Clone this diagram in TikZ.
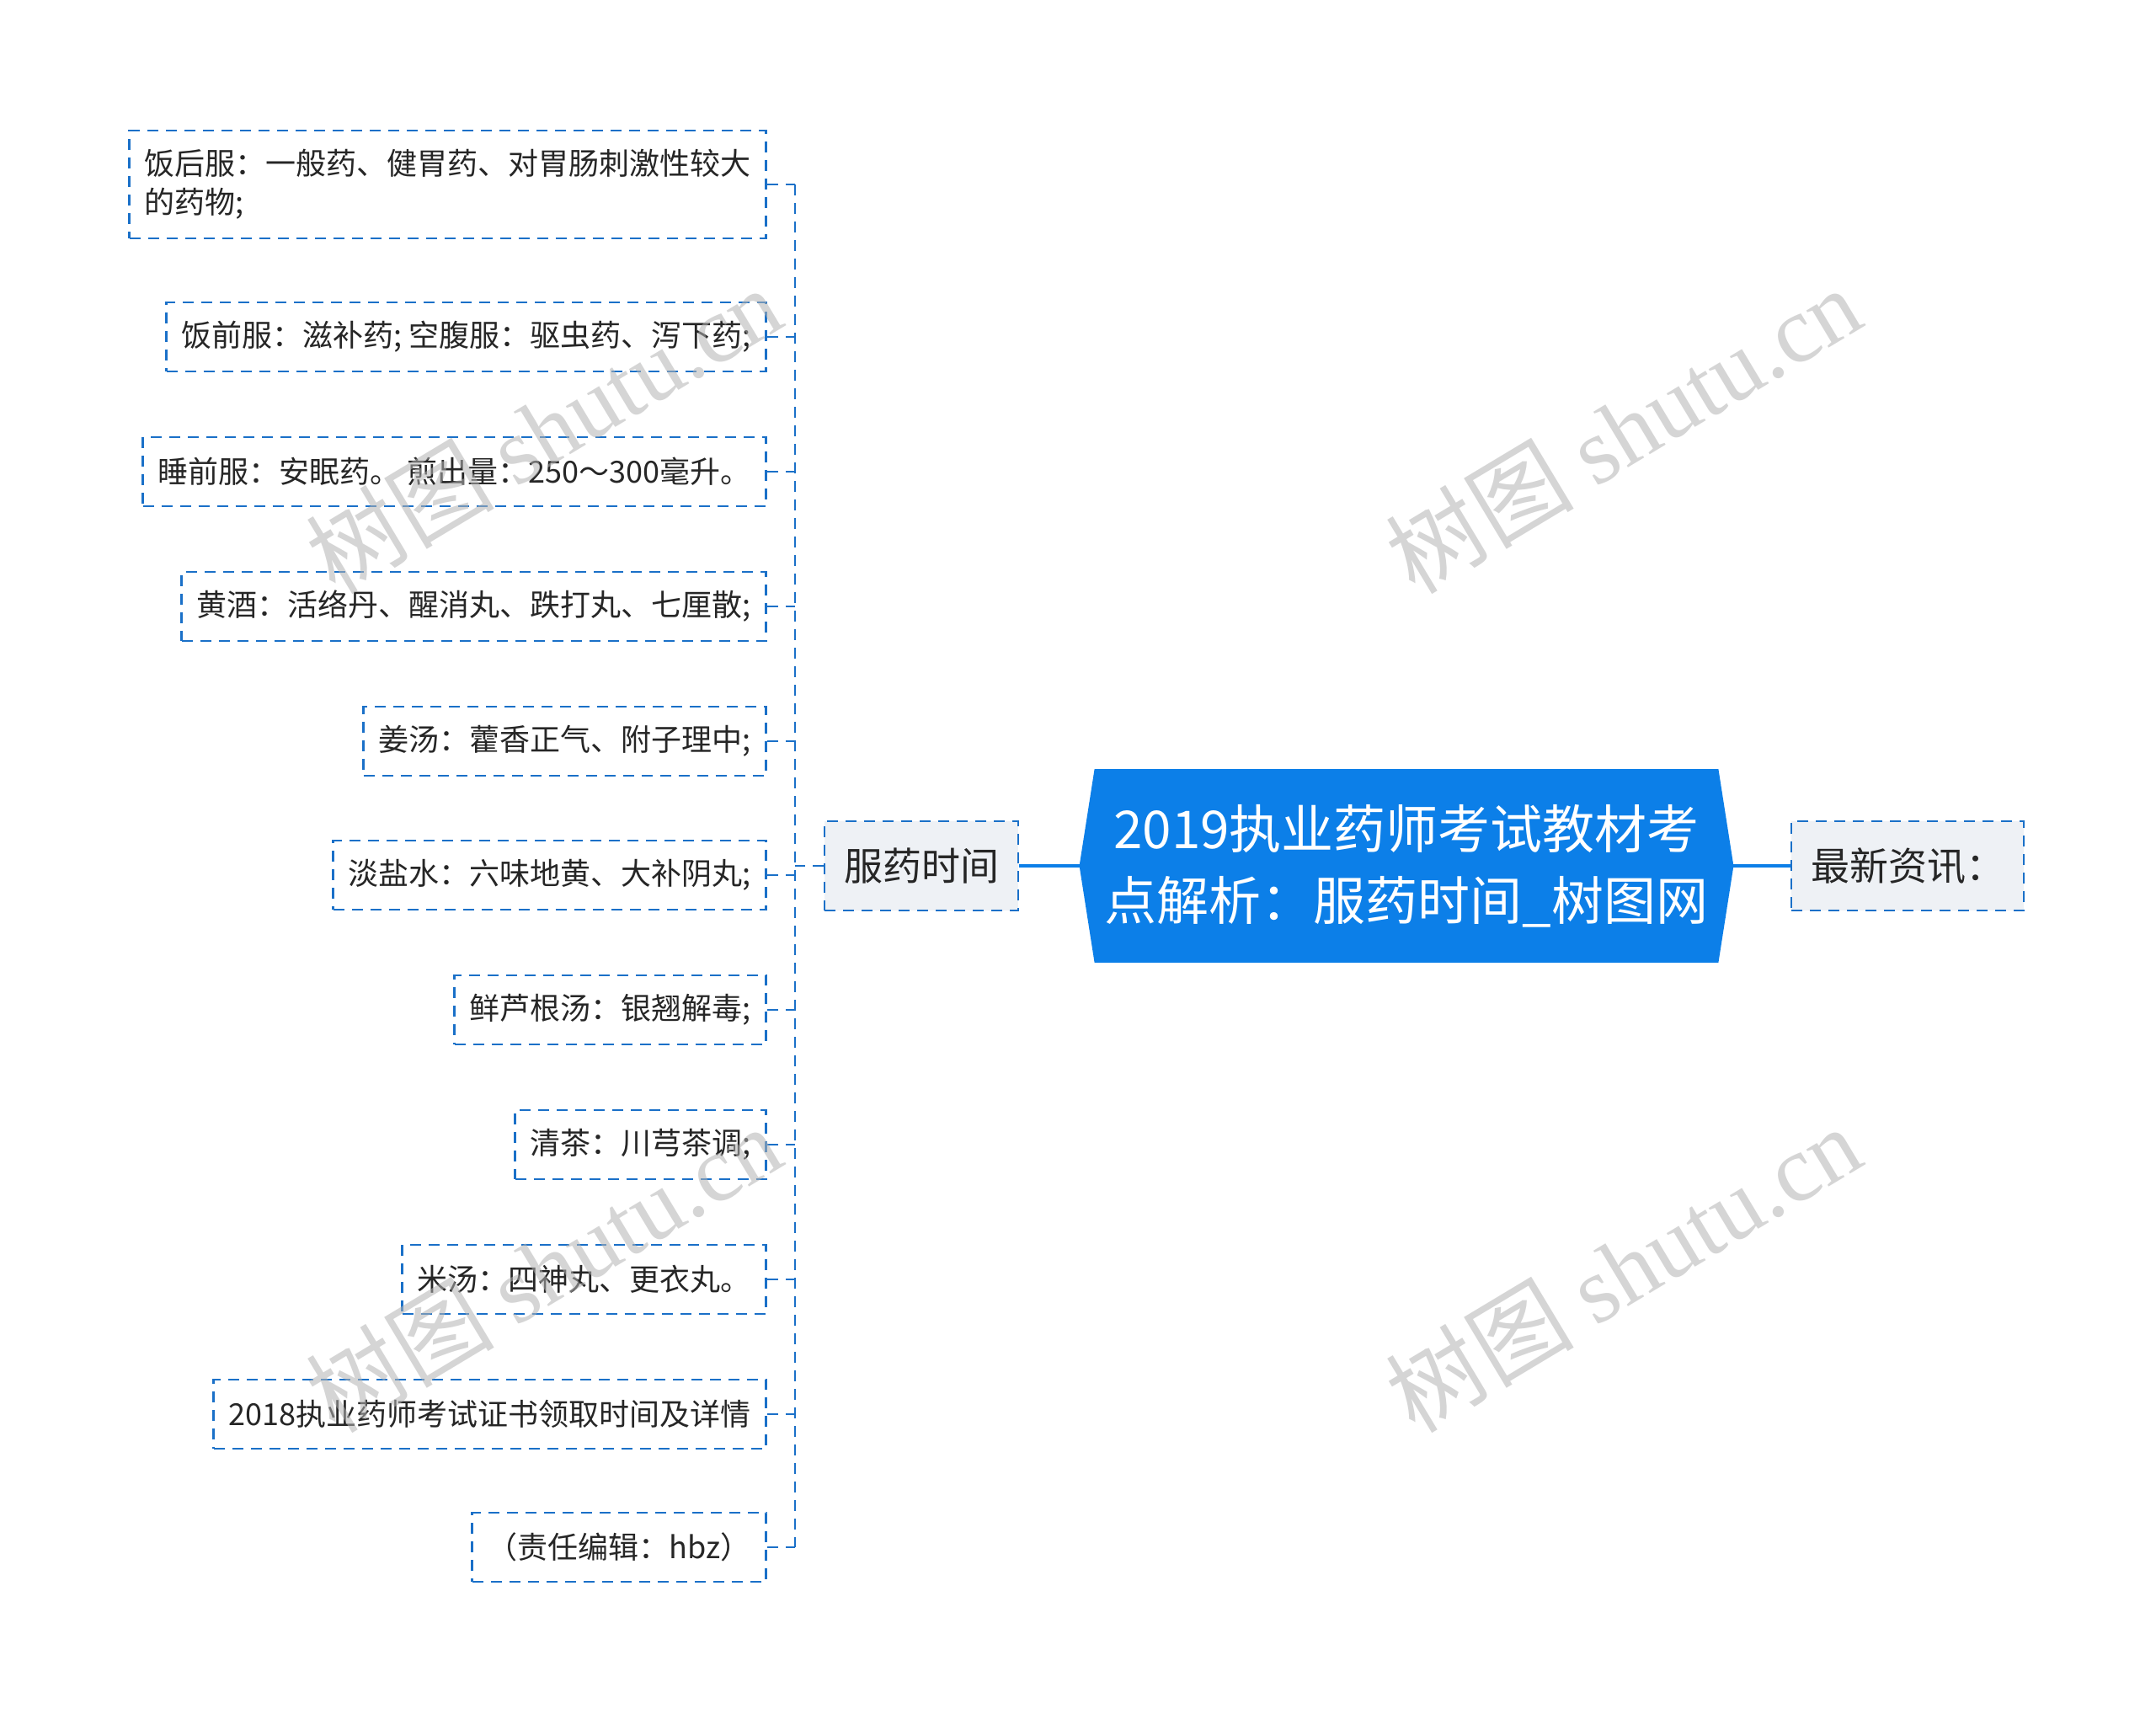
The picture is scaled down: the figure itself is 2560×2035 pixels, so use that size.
\documentclass[tikz,border=0pt]{standalone}
\usepackage{fontspec}
\setmainfont{Noto Sans CJK SC}
\newfontfamily\wmfont{Liberation Serif}
\usetikzlibrary{backgrounds}
\definecolor{mainblue}{RGB}{12,127,232}
\definecolor{dashblue}{RGB}{26,112,200}
\definecolor{boxgray}{RGB}{238,241,245}
\definecolor{inkgray}{RGB}{38,38,38}
\begin{document}
\begin{tikzpicture}[x=0.5pt,y=-0.5pt,
        leaf/.style={draw=dashblue, line width=1.4pt, dash pattern=on 6.5pt off 4.5pt, anchor=east,
            inner xsep=9pt, minimum height=41pt, text=inkgray, align=left, font=\fontsize{18}{23}\selectfont},
        topic/.style={draw=dashblue, line width=1.4pt, dash pattern=on 6.5pt off 4.5pt, fill=boxgray,
            inner xsep=11.5pt, minimum height=53pt, text=inkgray, font=\fontsize{23}{28}\selectfont},
        link/.style={dashblue, line width=1.4pt, dash pattern=on 6.5pt off 4.5pt},
        mainlink/.style={mainblue, line width=2pt},
        wmark/.style={rotate=31, text=gray!60, opacity=0.55, font=\fontsize{56}{56}\selectfont}]
    \useasboundingbox (0,0) rectangle (2560,2035);

    % centre
    \node[minimum width=370pt, minimum height=114.5pt, inner sep=0pt, align=center, text=white,
        font=\fontsize{31}{42.5}\selectfont] (title) at (1670,1028)
        {2019执业药师考试教材考\\点解析：服药时间\_树图网};
    \begin{pgfonlayer}{background}
        \fill[mainblue] (title.north west) -- (title.north east) -- ([xshift=9pt]title.east)
            -- (title.south east) -- (title.south west) -- ([xshift=-9pt]title.west) -- cycle;
    \end{pgfonlayer}
    \node[topic] (fuyao) at (1094,1028) {服药时间};
    \node[topic] (news) at (2265,1028) {最新资讯：};
    \draw[mainlink] (fuyao.east) -- ([xshift=-9pt]title.west);
    \draw[mainlink] ([xshift=9pt]title.east) -- (news.west);

    % leaves
    \node[leaf, minimum height=64pt] (after) at (911,219) {饭后服：一般药、健胃药、对胃肠刺激性较大\\的药物;};
    \node[leaf] (before) at (911,400) {饭前服：滋补药; 空腹服：驱虫药、泻下药;};
    \node[leaf] (bedtime) at (911,560) {睡前服：安眠药。 煎出量：250～300毫升。};
    \node[leaf] (wine) at (911,720) {黄酒：活络丹、醒消丸、跌打丸、七厘散;};
    \node[leaf] (ginger) at (911,880) {姜汤：藿香正气、附子理中;};
    \node[leaf] (saltwater) at (911,1039) {淡盐水：六味地黄、大补阴丸;};
    \node[leaf] (reedroot) at (911,1199) {鲜芦根汤：银翘解毒;};
    \node[leaf] (tea) at (911,1359) {清茶：川芎茶调;};
    \node[leaf] (ricesoup) at (911,1519) {米汤：四神丸、更衣丸。};
    \node[leaf] (cert) at (911,1679) {2018执业药师考试证书领取时间及详情};
    \node[leaf] (editor) at (911,1837) {（责任编辑：hbz）};

    \coordinate (trunk) at (944,1028);
    \draw[link] (fuyao.west) -- (trunk);
    \draw[link] (after.east -| trunk) -- (editor.east -| trunk);
    \foreach \leafname in {after,before,bedtime,wine,ginger,saltwater,reedroot,tea,ricesoup,cert,editor}
        \draw[link] (\leafname.east) -- (\leafname.east -| trunk);

    % watermarks
    \node[wmark] (wm1) at (645,510) {树图 {\wmfont shutu.cn}};
    \node[wmark] (wm2) at (1927,510) {树图 {\wmfont shutu.cn}};
    \node[wmark] (wm3) at (645,1506) {树图 {\wmfont shutu.cn}};
    \node[wmark] (wm4) at (1927,1506) {树图 {\wmfont shutu.cn}};
\end{tikzpicture}
\end{document}
